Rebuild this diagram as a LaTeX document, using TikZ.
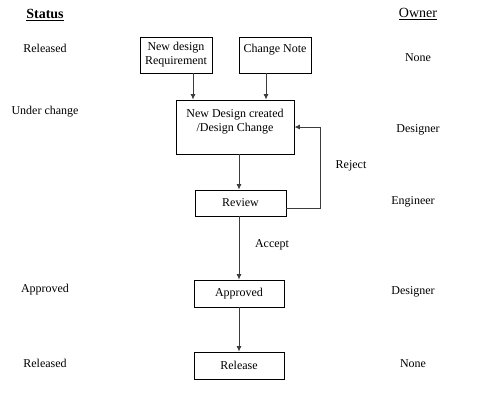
\documentclass[tikz,border=0pt]{standalone}
\usepackage{fontspec}
\setmainfont{Liberation Serif}
\usetikzlibrary{positioning,arrows.meta,calc}
\definecolor{flowLine}{RGB}{60,60,60}

\begin{document}
\begin{tikzpicture}[x=1pt,y=-1pt,
      box/.style={draw=black,line width=0.8pt,fill=white,align=center,inner sep=1pt,font=\fontsize{12}{14}\selectfont},
      lbl/.style={align=center,font=\fontsize{12}{14}\selectfont},
      head/.style={font=\fontsize{14}{16}\selectfont},
      arr/.style={-{Latex[length=5.5pt,width=5pt]},flowLine,line width=0.9pt}]
    \useasboundingbox (0,0) rectangle (477,407);
    % column headings
    \node[head] (status) at (45,15) {\bfseries\underline{Status}};
    \node[head] (owner) at (418,14) {\underline{Owner}};
    % status column
    \node[lbl] (st1) at (45,48) {Released};
    \node[lbl] (st2) at (45,112) {Under change};
    \node[lbl] (st3) at (45,290) {Approved};
    \node[lbl] (st4) at (45,363) {Released};
    % owner column
    \node[lbl] (ow1) at (418,58) {None};
    \node[lbl] (ow2) at (418,130) {Designer};
    \node[lbl] (ow3) at (413,202) {Engineer};
    \node[lbl] (ow4) at (413,292) {Designer};
    \node[lbl] (ow5) at (413,364) {None};
    % flow boxes
    \node[box,minimum width=72pt,minimum height=36pt] (req) at (176,55) {New design\\Requirement};
    \node[box,minimum width=72pt,minimum height=36pt] (cn) at (275,55) {Change Note\\\mbox{}};
    \node[box,minimum width=118pt,minimum height=54pt] (nd) at (235,127) {New Design created\\/Design Change\\\mbox{}};
    \node[box,minimum width=91pt,minimum height=26pt] (rev) at (240.5,203) {Review};
    \node[box,minimum width=90pt,minimum height=27pt] (app) at (239,293.5) {Approved};
    \node[box,minimum width=90pt,minimum height=27pt] (rel) at (239,365.5) {Release};
    % connectors
    \draw[arr] ([xshift=17pt]req.south) -- ([xshift=17pt]req.south |- nd.north);
    \draw[arr] ([xshift=-9pt]cn.south) -- ([xshift=-9pt]cn.south |- nd.north);
    \draw[arr] ([xshift=4pt]nd.south) -- ([xshift=4pt]nd.south |- rev.north);
    \draw[arr] ([yshift=-5pt]rev.east) -- ++(34,0) |- (nd.east);
    \draw[arr] (rev.south -| app.north) -- (app.north);
    \draw[arr] (app) -- (rel);
    \node[lbl] (rej) at (351,166) {Reject};
    \node[lbl] (acc) at (272,245) {Accept};
  \end{tikzpicture}
\end{document}
